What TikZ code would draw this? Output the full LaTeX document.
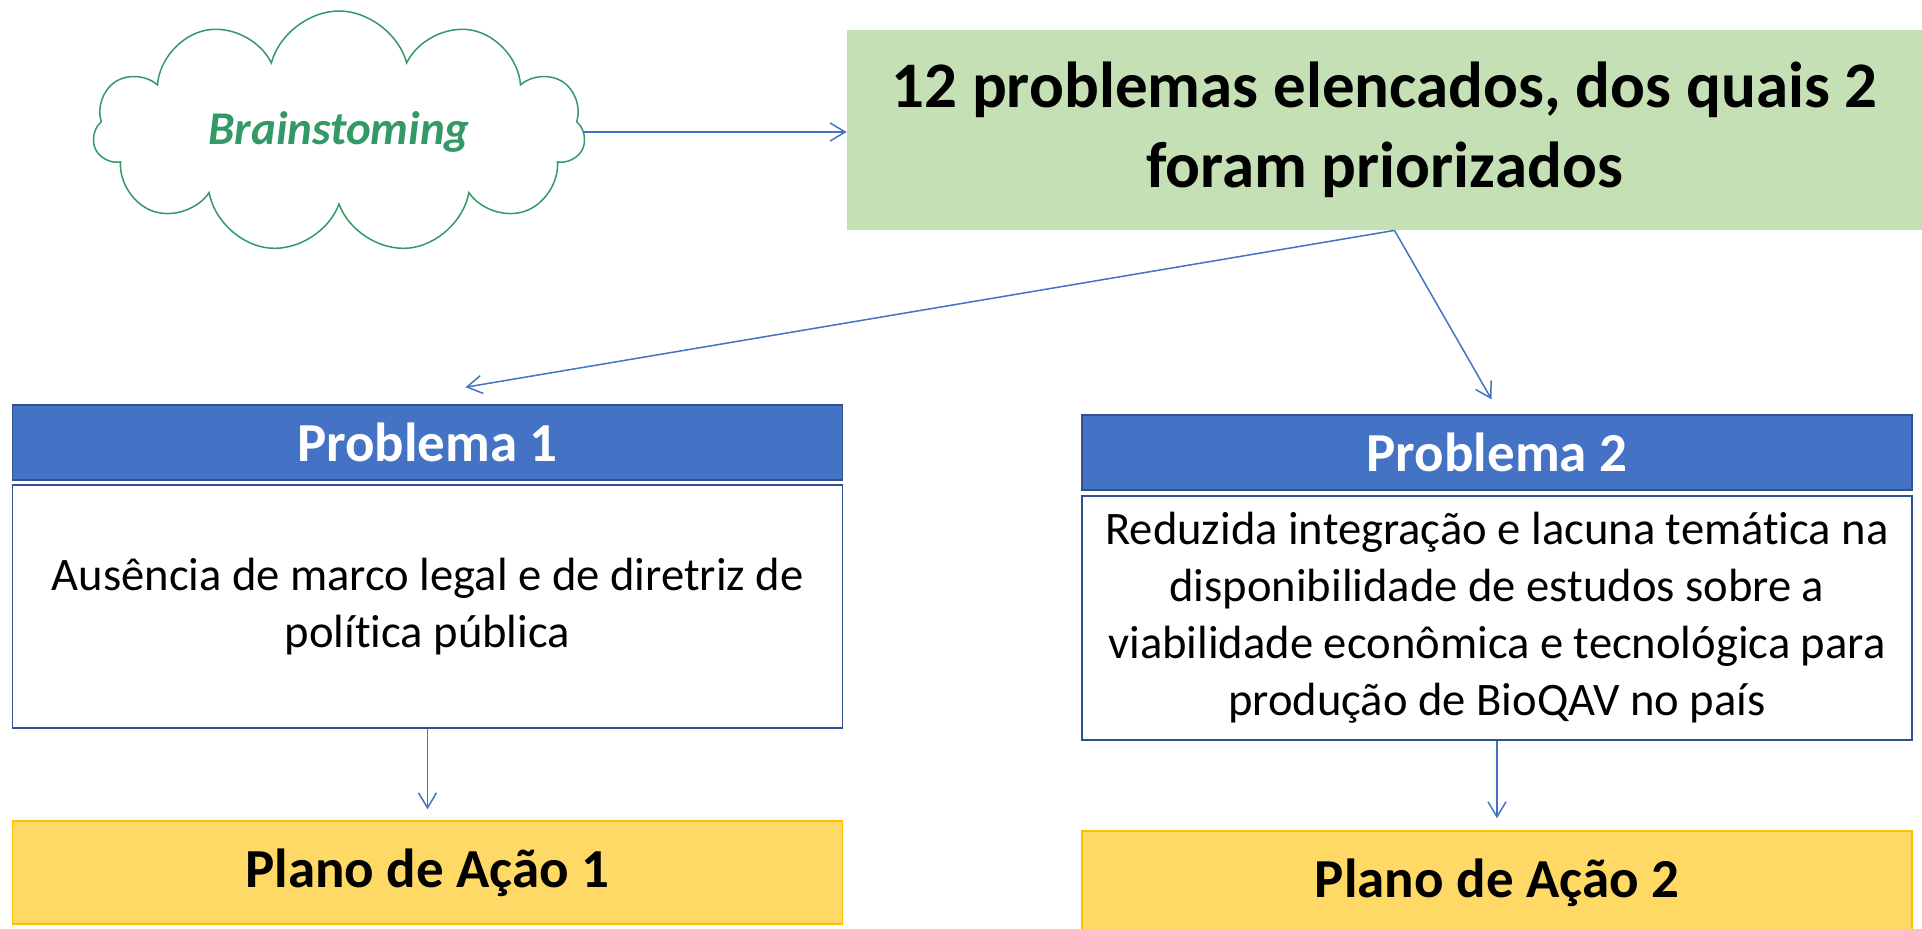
\documentclass[tikz,border=0pt]{standalone}
\usepackage{fontspec}
\setmainfont{Carlito}[Ligatures=NoCommon]
\usetikzlibrary{positioning,shapes.symbols,arrows.meta}

\definecolor{hdblue}{HTML}{4472C4}
\definecolor{hdline}{HTML}{2F528F}
\definecolor{boxgreen}{HTML}{C5E0B4}
\definecolor{planyellow}{HTML}{FFD966}
\definecolor{planline}{HTML}{FFC000}
\definecolor{cloudgreen}{RGB}{51,153,102}

\tikzset{
  head/.style={rectangle, fill=hdblue, draw=hdline, line width=0.75pt,
    minimum width=415pt, minimum height=37.5pt, text=white,
    font=\bfseries\fontsize{27.5}{33}\selectfont},
  body/.style={rectangle, fill=white, draw=hdline, line width=0.75pt,
    minimum width=415pt, align=center,
    font=\fontsize{23.3}{28.5}\selectfont},
  plan/.style={rectangle, fill=planyellow, draw=planline, line width=0.75pt,
    minimum width=415pt, minimum height=51.5pt,
    font=\bfseries\fontsize{27.5}{33}\selectfont},
}

\begin{document}
\begin{tikzpicture}[->, >={Straight Barb[length=7.5pt,width=9pt]}, x=0.5pt, y=-0.5pt,
    every edge/.style={draw=hdblue, line width=0.75pt}]
			\useasboundingbox (0,0) rectangle (1922,928);
			\node (1) [cloud, cloud puffs=11, cloud ignores aspect, draw=cloudgreen, line width=0.75pt,
			  minimum width=246pt, minimum height=121pt, text=cloudgreen,
			  font=\bfseries\itshape\fontsize{23.5}{28}\selectfont] at (339,132) {Brainstoming};
			\node (2) [fill=boxgreen, minimum width=537.5pt, minimum height=100pt, align=center,
			  font=\bfseries\fontsize{32.5}{40}\selectfont] at (1384.5,130)
			  {12 problemas elencados, dos quais 2\\foram priorizados};
			\node (3) [head] at (427.5,442.5) {Problema 1};
			\node (4) [body, minimum height=121.5pt, below of=3, node distance=82pt]
			  {Ausência de marco legal e de diretriz de\\política pública};
			\node (5) [plan, below of=4, node distance=133pt] {Plano de Ação 1};
			\node (6) [head, right of=3, node distance=534.75pt, yshift=-5pt] {Problema 2};
			\node (7) [body, minimum height=122pt, below of=6, node distance=82.75pt]
			  {Reduzida integração e lacuna temática na\\disponibilidade de estudos sobre a\\viabilidade econômica e tecnológica para\\produção de BioQAV no país};
			\node (8) [plan, below of=7, node distance=132.25pt] {Plano de Ação 2};

			\path
			  (1.east) edge (1.east -| 2.west)
			  ([xshift=5pt]2.south) edge ([xshift=19pt,yshift=8.5pt]3.north)
			  ([xshift=5pt]2.south) edge ([xshift=-2.75pt,yshift=7.5pt]6.north)
			  (4) edge ([yshift=5.5pt]5.north)
			  (7) edge ([yshift=6pt]8.north);

		  \end{tikzpicture}
\end{document}
